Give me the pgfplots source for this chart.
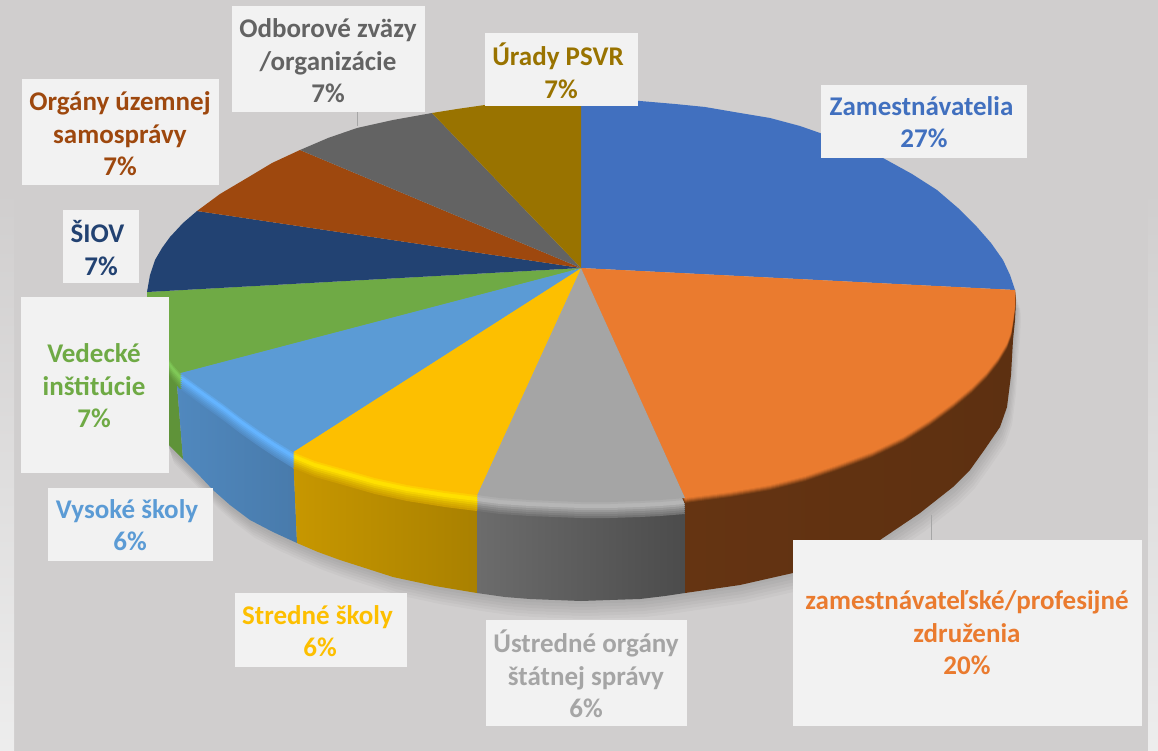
\documentclass[border=0pt]{standalone}
\usepackage{fontspec}
\setmainfont{Carlito}
\usepackage{pgfplots}
\usepackage{pgfplotstable}
\pgfplotsset{compat=1.18}

\definecolor{bggray}{HTML}{D0CECE}
\definecolor{boxc}{HTML}{F2F2F2}
\definecolor{cblue}{HTML}{4170BF}
\definecolor{corange}{HTML}{EA7B2F}
\definecolor{cgray}{HTML}{A5A5A5}
\definecolor{cyellow}{HTML}{FDBF00}
\definecolor{clblue}{HTML}{5B9BD5}
\definecolor{cgreen}{HTML}{6FAA45}
\definecolor{cnavy}{HTML}{224272}
\definecolor{cbrown}{HTML}{9E480E}
\definecolor{cdark}{HTML}{636363}
\definecolor{colive}{HTML}{997300}
% side wall and bright bevel colours
\definecolor{sgreen}{HTML}{5F9339}
\definecolor{bgreen}{HTML}{7FC857}
\definecolor{slblue}{HTML}{5088BE}
\definecolor{blblue}{HTML}{64B4FF}
\definecolor{syellow}{HTML}{C79700}
\definecolor{byellow}{HTML}{FFE000}
\definecolor{sgray}{HTML}{6C6C6C}
\definecolor{bgray}{HTML}{B6B6B6}
\definecolor{sorange}{HTML}{653412}

% top faces: centre first, then the rim in pixels of the picture
\pgfplotstableread{
x y
581 268
581 100
610 100
640 101
675 104
705 107
740 113
770 118
800 126
820 133
855 146
883 158
912 174
937 190
958 208
977 227
991 243
1003 260
1010 275
1015 290
}\topblue
\pgfplotstableread{
x y
581 268
1015 290
1015 305
1013 320
1011 332
1007 343
998 358
987 372
971 388
953 403
930 420
903 437
872 452
837 465
805 476
770 485
730 492
685 498
}\toporange
\pgfplotstableread{
x y
581 268
685 498
660 500
640 501
610 502
581 502
555 501
530 500
500 498
477 495
}\topgray
\pgfplotstableread{
x y
581 268
477 495
445 491
407 485
375 478
340 468
315 461
293 452
}\topyellow
\pgfplotstableread{
x y
581 268
293 452
275 441
257 429
240 417
223 404
202 389
180 373
}\toplblue
\pgfplotstableread{
x y
581 268
180 373
173 365
168 358
161 347
156 337
151 325
149 315
147 303
147 292
}\topgreen
\pgfplotstableread{
x y
581 268
147 292
150 275
155 260
162 248
170 237
183 223
197 211
}\topnavy
\pgfplotstableread{
x y
581 268
197 211
220 194
247 178
272 163
300 150
}\topbrown
\pgfplotstableread{
x y
581 268
300 150
328 138
357 128
393 120
432 113
}\topdark
\pgfplotstableread{
x y
581 268
432 113
457 109
485 105
507 103
530 101
555 100
581 100
}\topolive

% outer side walls
\pgfplotstableread{
x y
147 292
147 303
149 315
151 325
156 337
161 347
168 358
173 365
180 373
177 385
183 459
169 445
162 420
156 390
152 365
150 340
148 315
}\sidegreen
\pgfplotstableread{
x y
177 385
180 373
202 389
223 404
240 417
257 429
275 441
293 452
297 543
273 532
250 520
230 505
213 490
197 473
183 459
}\sidelblue
\pgfplotstableread{
x y
293 452
315 461
340 468
375 478
407 485
445 491
477 495
477 593
435 586
393 577
365 568
340 560
318 552
297 543
}\sideyellow
\pgfplotstableread{
x y
477 495
500 498
530 500
555 501
581 502
610 502
640 501
660 500
685 498
685 593
665 596
640 599
610 600
581 601
555 600
530 599
505 597
477 593
}\sidegray
\pgfplotstableread{
x y
685 498
730 492
770 485
805 476
837 465
872 452
903 437
930 420
953 403
971 388
987 372
998 358
1007 343
1011 332
1013 320
1015 305
1015 290
1016 300
1015 320
1013 340
1011 375
1007 407
1000 427
985 449
970 470
953 487
920 513
880 540
838 558
793 573
740 585
685 593
}\sideorange

% silhouette of the lower edge, for the soft shadow
\pgfplotstableread{
x y
147 292
148 315
150 340
152 365
156 390
162 420
169 445
183 459
197 473
213 490
230 505
250 520
273 532
297 543
318 552
340 560
365 568
393 577
435 586
477 593
505 597
530 599
555 600
581 601
610 600
640 599
665 596
685 593
740 585
793 573
838 558
880 540
920 513
953 487
970 470
985 449
1000 427
1007 407
1011 375
1013 340
1015 320
1016 300
1015 290
581 268
}\pieoutline

\newcommand{\slice}[2]{\addplot[fill=#2,draw=none] table {#1} -- cycle;}
\newcommand{\shadowlayer}[2]{\addplot[fill=black,fill opacity=0.028,draw=none,xshift=#1pt,yshift=-#2pt] table {\pieoutline} -- cycle;}
\newcommand{\rimlayer}[3]{\addplot[fill=#3,draw=none,yshift=-#2pt] table {#1} -- cycle;}
% bevel along the near rim: side colour, bright stripe, face colour
\newcommand{\bevel}[4]{%
  \rimlayer{#1}{16}{#2!90!#3}
  \rimlayer{#1}{14}{#2!75!#3}
  \rimlayer{#1}{12}{#2!60!#3}
  \rimlayer{#1}{10}{#2!40!#3}
  \rimlayer{#1}{8}{#2!20!#3}
  \rimlayer{#1}{6}{#3}
  \rimlayer{#1}{4}{#3}
  \rimlayer{#1}{2}{#3!50!#4}
}
\newcommand{\lbox}[4]{\fill[boxc] (axis cs:#1,#2) rectangle (axis cs:#3,#4);}
\newcommand{\ltext}[4]{\node[text=#3,align=center,inner sep=0pt,font=\fontsize{27}{32.5}\selectfont\bfseries] at (axis cs:#1,#2) {#4};}

\begin{document}
\begin{tikzpicture}
\begin{axis}[
    hide axis,
    scale only axis,
    width=1158pt,
    height=751pt,
    xmin=0, xmax=1158,
    ymin=0, ymax=751,
    y dir=reverse,
]
% background
\addplot[fill=bggray,draw=none] coordinates {(0,0) (1158,0) (1158,751) (0,751)} -- cycle;
\addplot[top color=bggray,bottom color=white!93!black,draw=none,shade] coordinates {(0,190) (14,190) (14,751) (0,751)} -- cycle;
\addplot[top color=bggray,bottom color=white!93!black,draw=none,shade] coordinates {(1148,190) (1158,190) (1158,751) (1148,751)} -- cycle;

% shadow
\shadowlayer{0}{3}
\shadowlayer{1}{6}
\shadowlayer{2}{9}
\shadowlayer{3}{12}
\shadowlayer{4}{15}
\shadowlayer{5}{18}

% side walls
\addplot[fill=sgreen,draw=none] table {\sidegreen} -- cycle;
\addplot[left color=slblue,right color=slblue!90!black,draw=none,shade] table {\sidelblue} -- cycle;
\addplot[left color=syellow,right color=syellow!85!black,draw=none,shade] table {\sideyellow} -- cycle;
\addplot[left color=sgray,right color=sgray!70!black,draw=none,shade] table {\sidegray} -- cycle;
\addplot[left color=sorange,right color=sorange!92!black,draw=none,shade] table {\sideorange} -- cycle;

% bevel
\bevel{\topgreen}{sgreen}{bgreen}{cgreen}
\bevel{\toplblue}{slblue}{blblue}{clblue}
\bevel{\topyellow}{syellow}{byellow}{cyellow}
\bevel{\topgray}{sgray}{bgray}{cgray}
\rimlayer{\toporange}{6}{sorange}
\rimlayer{\toporange}{5}{sorange!85!corange}
\rimlayer{\toporange}{4}{sorange!65!corange}
\rimlayer{\toporange}{3}{sorange!45!corange}
\rimlayer{\toporange}{2}{sorange!25!corange}
\rimlayer{\toporange}{1}{sorange!10!corange}

% top faces
\slice{\topblue}{cblue}
\slice{\toporange}{corange}
\slice{\topgray}{cgray}
\slice{\topyellow}{cyellow}
\slice{\toplblue}{clblue}
\slice{\topgreen}{cgreen}
\slice{\topnavy}{cnavy}
\slice{\topbrown}{cbrown}
\slice{\topdark}{cdark}
\slice{\topolive}{colive}

% leader lines
\addplot[draw=black!35,line width=1pt] coordinates {(357,112) (357,126)};
\addplot[draw=black!35,line width=1pt] coordinates {(931,515) (931,540)};

% label boxes
\lbox{821}{85}{1027}{158}
\lbox{485}{33}{638}{106}
\lbox{232}{6}{425}{112}
\lbox{22}{79}{219}{185}
\lbox{63}{210}{139}{283}
\lbox{21}{297}{169}{473}
\lbox{48}{488}{213}{561}
\lbox{235}{593}{407}{667}
\lbox{486}{620}{687}{726}
\lbox{793}{540}{1142}{726}

% labels
\ltext{924}{122}{cblue}{Zamestnávatelia\kern5pt\\27\%}
\ltext{967}{633}{corange}{zamestnávateľské/profesijné\\združenia\\20\%}
\ltext{586}{674}{cgray}{Ústredné orgány\\štátnej správy\\6\%}
\ltext{320}{631}{cyellow}{Stredné školy\kern5pt\\6\%}
\ltext{130}{525}{clblue}{Vysoké školy\kern6pt\\6\%}
\ltext{94}{386}{cgreen}{Vedecké\\inštitúcie\\7\%}
\ltext{101}{248}{cnavy}{ŠIOV\kern7pt\\7\%}
\ltext{120}{134}{cbrown}{Orgány územnej\\samosprávy\\7\%}
\ltext{328}{61}{cdark}{Odborové zväzy\\/organizácie\\7\%}
\ltext{561}{71}{colive}{Úrady PSVR\kern6pt\\7\%}
\end{axis}
\end{tikzpicture}
\end{document}
